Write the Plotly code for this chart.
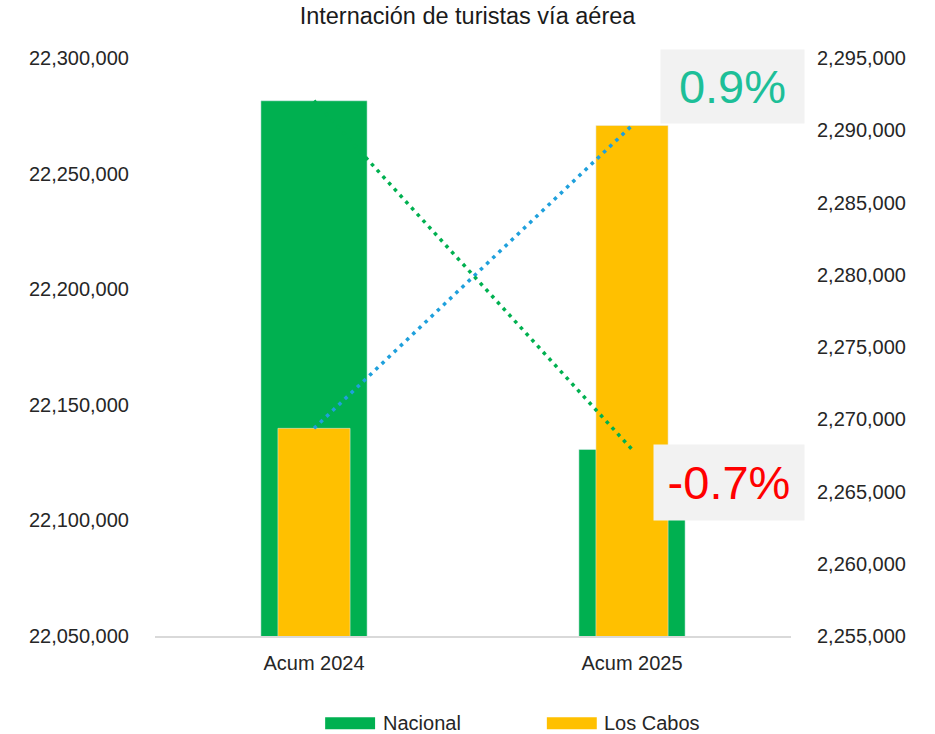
import plotly.graph_objects as go

categories = ["Acum 2024", "Acum 2025"]
nacional = [22281500, 22130700]
los_cabos = [2269370, 2290330]
series_names = ["Nacional", "Los Cabos"]
change_labels = ["0.9%", "-0.7%"]
title_text = "Internación de turistas vía aérea"

GREEN = "#00B050"
YELLOW = "#FFC000"
BLUE = "#1FA0DC"
TEAL = "#1DBF98"
RED = "#FF0000"
FONT = "Liberation Sans, Arial, sans-serif"

fig = go.Figure()
fig.add_trace(go.Bar(x=categories, y=nacional, name=series_names[0], marker_color=GREEN,
                     width=0.334, yaxis="y", showlegend=False, hoverinfo="x+y"))
fig.add_trace(go.Bar(x=categories, y=los_cabos, name=series_names[1], marker_color=YELLOW,
                     width=0.227, yaxis="y2", showlegend=False, hoverinfo="x+y"))
fig.add_trace(go.Scatter(x=categories, y=los_cabos, mode="lines", yaxis="y2",
                         line=dict(color=BLUE, width=3.5, dash="3.5px,5px"),
                         showlegend=False, hoverinfo="skip"))
fig.add_trace(go.Scatter(x=categories, y=nacional, mode="lines", yaxis="y3",
                         line=dict(color=GREEN, width=3.5, dash="3.5px,5px"),
                         showlegend=False, hoverinfo="skip"))

W, H = 935, 734
L, R, T, B = 154.6, 143.5, 58.3, 98.2
pw, ph = W - L - R, H - T - B

def px(x):
    return (x - L) / pw

def py(y):
    return (H - B - y) / ph

tickfont = dict(family=FONT, size=20, color="#262626")

fig.update_layout(
    width=W, height=H,
    margin=dict(l=L, r=R, t=T, b=B),
    paper_bgcolor="white", plot_bgcolor="white",
    barmode="overlay",
    title=dict(text=title_text, x=0.5, xref="container", xanchor="center",
               y=1 - 16 / H, yanchor="middle", yref="container",
               font=dict(family=FONT, size=23.5, color="#1a1a1a")),
    xaxis=dict(type="category", range=[-0.5, 1.5], showgrid=False, zeroline=False,
               showline=True, linecolor="#D9D9D9", linewidth=1.5,
               tickfont=tickfont, ticks="", ticklabelstandoff=8),
    yaxis=dict(range=[22050000, 22300000], dtick=50000, tickformat=",",
               showgrid=False, zeroline=False, showline=False, tickfont=tickfont,
               ticks="", ticklabelstandoff=25),
    yaxis2=dict(range=[2255000, 2295000], dtick=5000, tickformat=",",
                overlaying="y", side="right", showgrid=False, zeroline=False,
                showline=False, tickfont=tickfont, ticks="", ticklabelstandoff=25),
    yaxis3=dict(range=[22050000, 22300000], overlaying="y", visible=False),
    showlegend=False,
    hovermode=False,
)

# change labels
fig.add_annotation(text=change_labels[0], xref="paper", yref="paper",
                   x=px(733), y=py(86.5), xanchor="center", yanchor="middle",
                   showarrow=False, width=141, height=71, bgcolor="#F2F2F2",
                   font=dict(family=FONT, size=47, color=TEAL), align="center")
fig.add_annotation(text=change_labels[1], xref="paper", yref="paper",
                   x=px(729), y=py(482.4), xanchor="center", yanchor="middle",
                   showarrow=False, width=148, height=73, bgcolor="#F2F2F2",
                   font=dict(family=FONT, size=47, color=RED), align="center")

# custom legend
legend_items = [(series_names[0], GREEN, 325, 375, 381), (series_names[1], YELLOW, 547, 597, 602)]
for name, color, x0, x1, tx in legend_items:
    fig.add_shape(type="rect", xref="paper", yref="paper",
                  x0=px(x0), x1=px(x1), y0=py(729), y1=py(717),
                  fillcolor=color, line=dict(width=0))
    fig.add_annotation(text=name, xref="paper", yref="paper", x=px(tx), y=py(723),
                       xanchor="left", yanchor="middle", showarrow=False,
                       font=dict(family=FONT, size=20, color="#262626"))

fig.write_html("out.html", config={"displayModeBar": False},
               post_script="document.body.style.margin='0';document.body.style.overflow='hidden';")
